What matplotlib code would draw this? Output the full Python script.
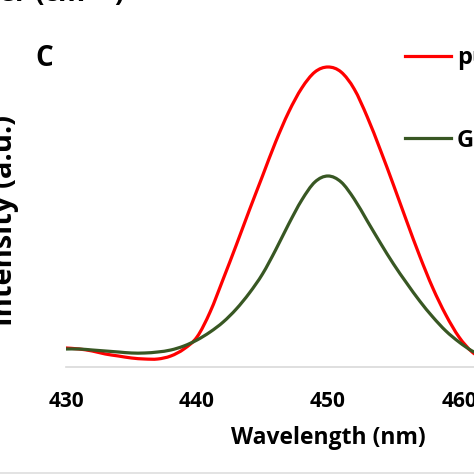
import matplotlib
matplotlib.use("Agg")
import matplotlib.pyplot as plt
from matplotlib.patches import Rectangle, PathPatch
from matplotlib.path import Path

plt.rcParams["font.family"] = ["Open Sans", "DejaVu Sans"]

# emission spectra (a.u.)
wavelength = list(range(430, 463))
red_series = [19, 18, 16, 13, 11, 9, 8, 8, 11, 18, 30, 55, 88, 122, 157, 191,
              225, 255, 279, 295, 300, 295, 278, 250, 217, 182, 146, 111, 79, 52,
              30, 15, 7]
green_series = [18, 18, 17, 16, 15, 14, 14, 15, 17, 21, 27, 35, 45, 58, 74, 93,
                117, 143, 167, 185, 191, 185, 168, 146, 124, 103, 84, 66, 50, 36,
                25, 16, 10]
series_labels = ["pure", "GQDs"]
xticks = [430, 440, 450, 460, 470]


def smooth_path(xs, ys):
    # excel-like "smoothed line": cubic bezier through every point
    verts = [(xs[0], ys[0])]
    codes = [Path.MOVETO]
    n = len(xs)
    for i in range(n - 1):
        x0, y0 = (xs[i - 1], ys[i - 1]) if i > 0 else (xs[i], ys[i])
        x1, y1 = xs[i], ys[i]
        x2, y2 = xs[i + 1], ys[i + 1]
        x3, y3 = (xs[i + 2], ys[i + 2]) if i + 2 < n else (x2, y2)
        verts += [(x1 + (x2 - x0) / 6, y1 + (y2 - y0) / 6),
                  (x2 - (x3 - x1) / 6, y2 - (y3 - y1) / 6),
                  (x2, y2)]
        codes += [Path.CURVE4] * 3
    return Path(verts, codes)


W = H = 474
fig = plt.figure(figsize=(4.74, 4.74), dpi=100)
fig.patch.set_facecolor("white")

ax = fig.add_axes([66 / W, 107 / H, 524 / W, 347 / H])
for ys, col in [(red_series, "#ff0000"), (green_series, "#385723")]:
    ax.add_patch(PathPatch(smooth_path(wavelength, ys), fill=False,
                           edgecolor=col, lw=2.3, capstyle="round"))
ax.set_xlim(430, 470)
ax.set_ylim(0, 347)
for s in ["top", "right", "left"]:
    ax.spines[s].set_visible(False)
ax.spines["bottom"].set_color("#d9d9d9")
ax.spines["bottom"].set_linewidth(1.2)
ax.set_yticks([])
ax.set_xticks(xticks)
ax.tick_params(axis="x", length=0, pad=17, labelsize=15)
for t in ax.get_xticklabels():
    t.set_fontweight("bold")
ax.set_xlabel("Wavelength (nm)", fontsize=16.5, fontweight="bold", labelpad=10)

# y label, partly cut at the left edge
fig.text(5 / W, 1 - 221 / H, "Intensity (a.u.)", rotation=90, fontsize=21,
         fontweight="bold", ha="center", va="center")

# panel letter
fig.text(44 / W, 1 - 58 / H, "C", fontsize=20, fontweight="bold",
         ha="center", va="center")

# legend entries, cut at the right edge
for yy, col, lab in [(56, "#ff0000", series_labels[0]), (138, "#385723", series_labels[1])]:
    fig.add_artist(plt.Line2D([405 / W, 451 / W], [1 - yy / H, 1 - yy / H],
                              color=col, lw=2.3))
    fig.text(457 / W, 1 - (yy + 2) / H, lab, fontsize=17, fontweight="bold",
             ha="left", va="center")

# bottom of the panel above
fig.text(125 / W, 1 - 2 / H, "Wavenumber (cm$^{-1}$)", fontsize=20,
         fontweight="bold", ha="right", va="baseline")

fig.add_artist(Rectangle((0, 0), 1, 2 / H, transform=fig.transFigure,
                         color="#e3e3e3", lw=0))

fig.savefig("out.png", dpi=100)
